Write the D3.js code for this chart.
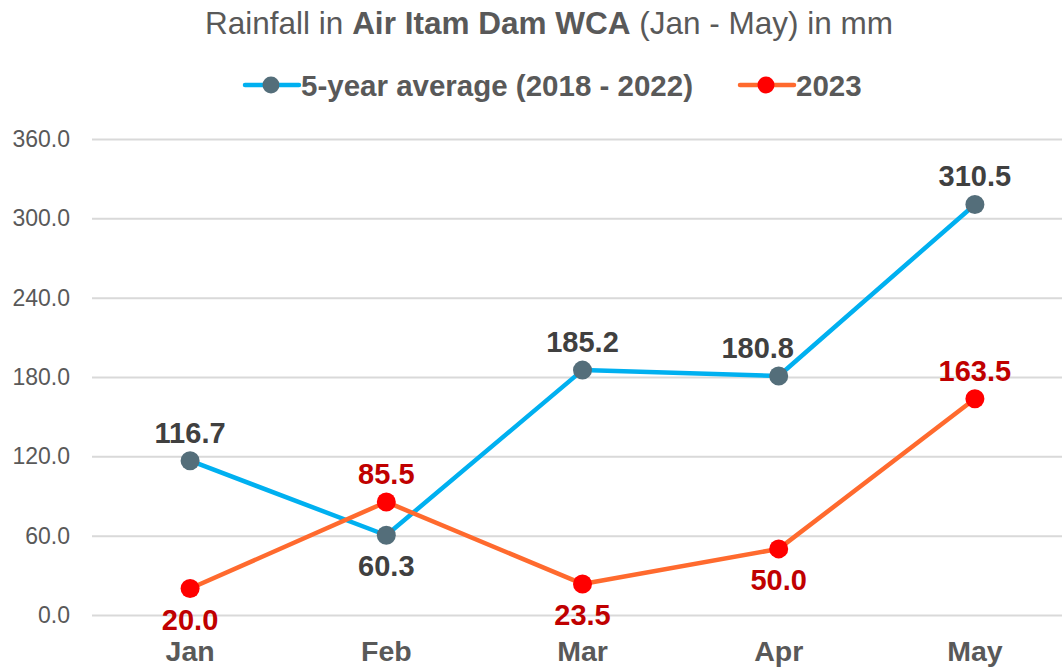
<!DOCTYPE html>
<html>
<head>
<meta charset="utf-8">
<script src="https://cdn.jsdelivr.net/npm/d3@7"></script>
<style>
  body { margin: 0; background: #fff; }
  svg { display: block; font-family: Arial, "Liberation Sans", sans-serif; }
</style>
</head>
<body>
<div class="chart"></div>
<script>
'use strict'

const months = ['Jan', 'Feb', 'Mar', 'Apr', 'May']
const avgValues = [116.7, 60.3, 185.2, 180.8, 310.5]
const y2023Values = [20.0, 85.5, 23.5, 50.0, 163.5]
const yTicks = [0, 60, 120, 180, 240, 300, 360]
// label placement per point: 'above' / 'below' / 'aboveLeft'
const avgLabelPos = ['above', 'below', 'above', 'aboveLeft', 'above']
const redLabelPos = ['below', 'above', 'below', 'below', 'above']

const width = 1062
const height = 667
const font = 'Arial, "Liberation Sans", sans-serif'

const svg = d3.select('.chart').append('svg')
    .attr('width', width)
    .attr('height', height)

const x = d3.scaleBand()
    .domain(months)
    .range([ 92, 1073 ])

const y = d3.scaleLinear()
    .domain([ 0, 360 ])
    .range([ 615, 139 ])

function cx(d, i) { return x(months[i]) + x.bandwidth() / 2 }

// title
const title = svg.append('text')
    .attr('x', 549)
    .attr('y', 34)
    .attr('text-anchor', 'middle')
    .style('font-size', '31.5px')
    .style('fill', '#595959')
title.append('tspan').text('Rainfall in ')
title.append('tspan').style('font-weight', 'bold').text('Air Itam Dam WCA')
title.append('tspan').text(' (Jan - May) in mm')

// gridlines + y axis
const yAxis = d3.axisLeft(y)
    .tickValues(yTicks)
    .tickSize(-(width - 92))
    .tickFormat(d3.format('.1f'))
    .tickPadding(22)

const yg = svg.append('g')
    .attr('transform', 'translate(92,0)')
    .call(yAxis)
yg.select('.domain').remove()
yg.selectAll('.tick line').attr('stroke', '#d9d9d9').attr('stroke-width', 2)
yg.selectAll('.tick text')
    .style('font-size', '23px')
    .style('fill', '#595959')
    .style('font-family', font)

// x axis labels
const xAxis = d3.axisBottom(x).tickSize(0).tickPadding(0)
const xg = svg.append('g')
    .attr('transform', 'translate(0,641)')
    .call(xAxis)
xg.select('.domain').remove()
xg.selectAll('.tick text')
    .style('font-size', '28.5px')
    .style('font-weight', 'bold')
    .style('fill', '#595959')
    .style('font-family', font)

const line = d3.line()
    .x(cx)
    .y(d => y(d))

function drawSeries(values, lineColor, markColor, labelColor, labelPos) {
  svg.append('path')
      .datum(values)
      .attr('fill', 'none')
      .attr('stroke', lineColor)
      .attr('stroke-width', 4.5)
      .attr('stroke-linejoin', 'round')
      .attr('d', line)

  svg.selectAll(null)
      .data(values)
    .enter().append('circle')
      .attr('cx', cx)
      .attr('cy', d => y(d))
      .attr('r', 9.5)
      .attr('fill', markColor)

  svg.selectAll(null)
      .data(values)
    .enter().append('text')
      .attr('x', (d, i) => cx(d, i) + (labelPos[i] === 'aboveLeft' ? -21 : 0))
      .attr('y', (d, i) => y(d) + (labelPos[i] === 'below' ? 41 : -18))
      .attr('text-anchor', 'middle')
      .style('font-size', '29px')
      .style('font-weight', 'bold')
      .style('fill', labelColor)
      .text(d => d.toFixed(1))
}

drawSeries(avgValues, '#00b0f0', '#546e7a', '#404040', avgLabelPos)
drawSeries(y2023Values, '#ff6a2e', '#ff0000', '#c00000', redLabelPos)

// legend
const legendItems = [
  { name: '5-year average (2018 - 2022)', lineColor: '#00b0f0', markColor: '#546e7a', x: 245 },
  { name: '2023', lineColor: '#ff6a2e', markColor: '#ff0000', x: 740 }
]

const legend = svg.selectAll('.legend')
    .data(legendItems)
  .enter().append('g')
    .attr('class', 'legend')
    .attr('transform', d => 'translate(' + d.x + ',85)')

legend.append('line')
    .attr('x1', 0).attr('x2', 54)
    .attr('stroke', d => d.lineColor)
    .attr('stroke-width', 4.5)
    .attr('stroke-linecap', 'round')
legend.append('circle')
    .attr('cx', 26)
    .attr('r', 8.5)
    .attr('fill', d => d.markColor)
legend.append('text')
    .attr('x', 56)
    .attr('y', 10.5)
    .style('font-size', '29.5px')
    .style('font-weight', 'bold')
    .style('fill', '#595959')
    .text(d => d.name)
</script>
</body>
</html>
